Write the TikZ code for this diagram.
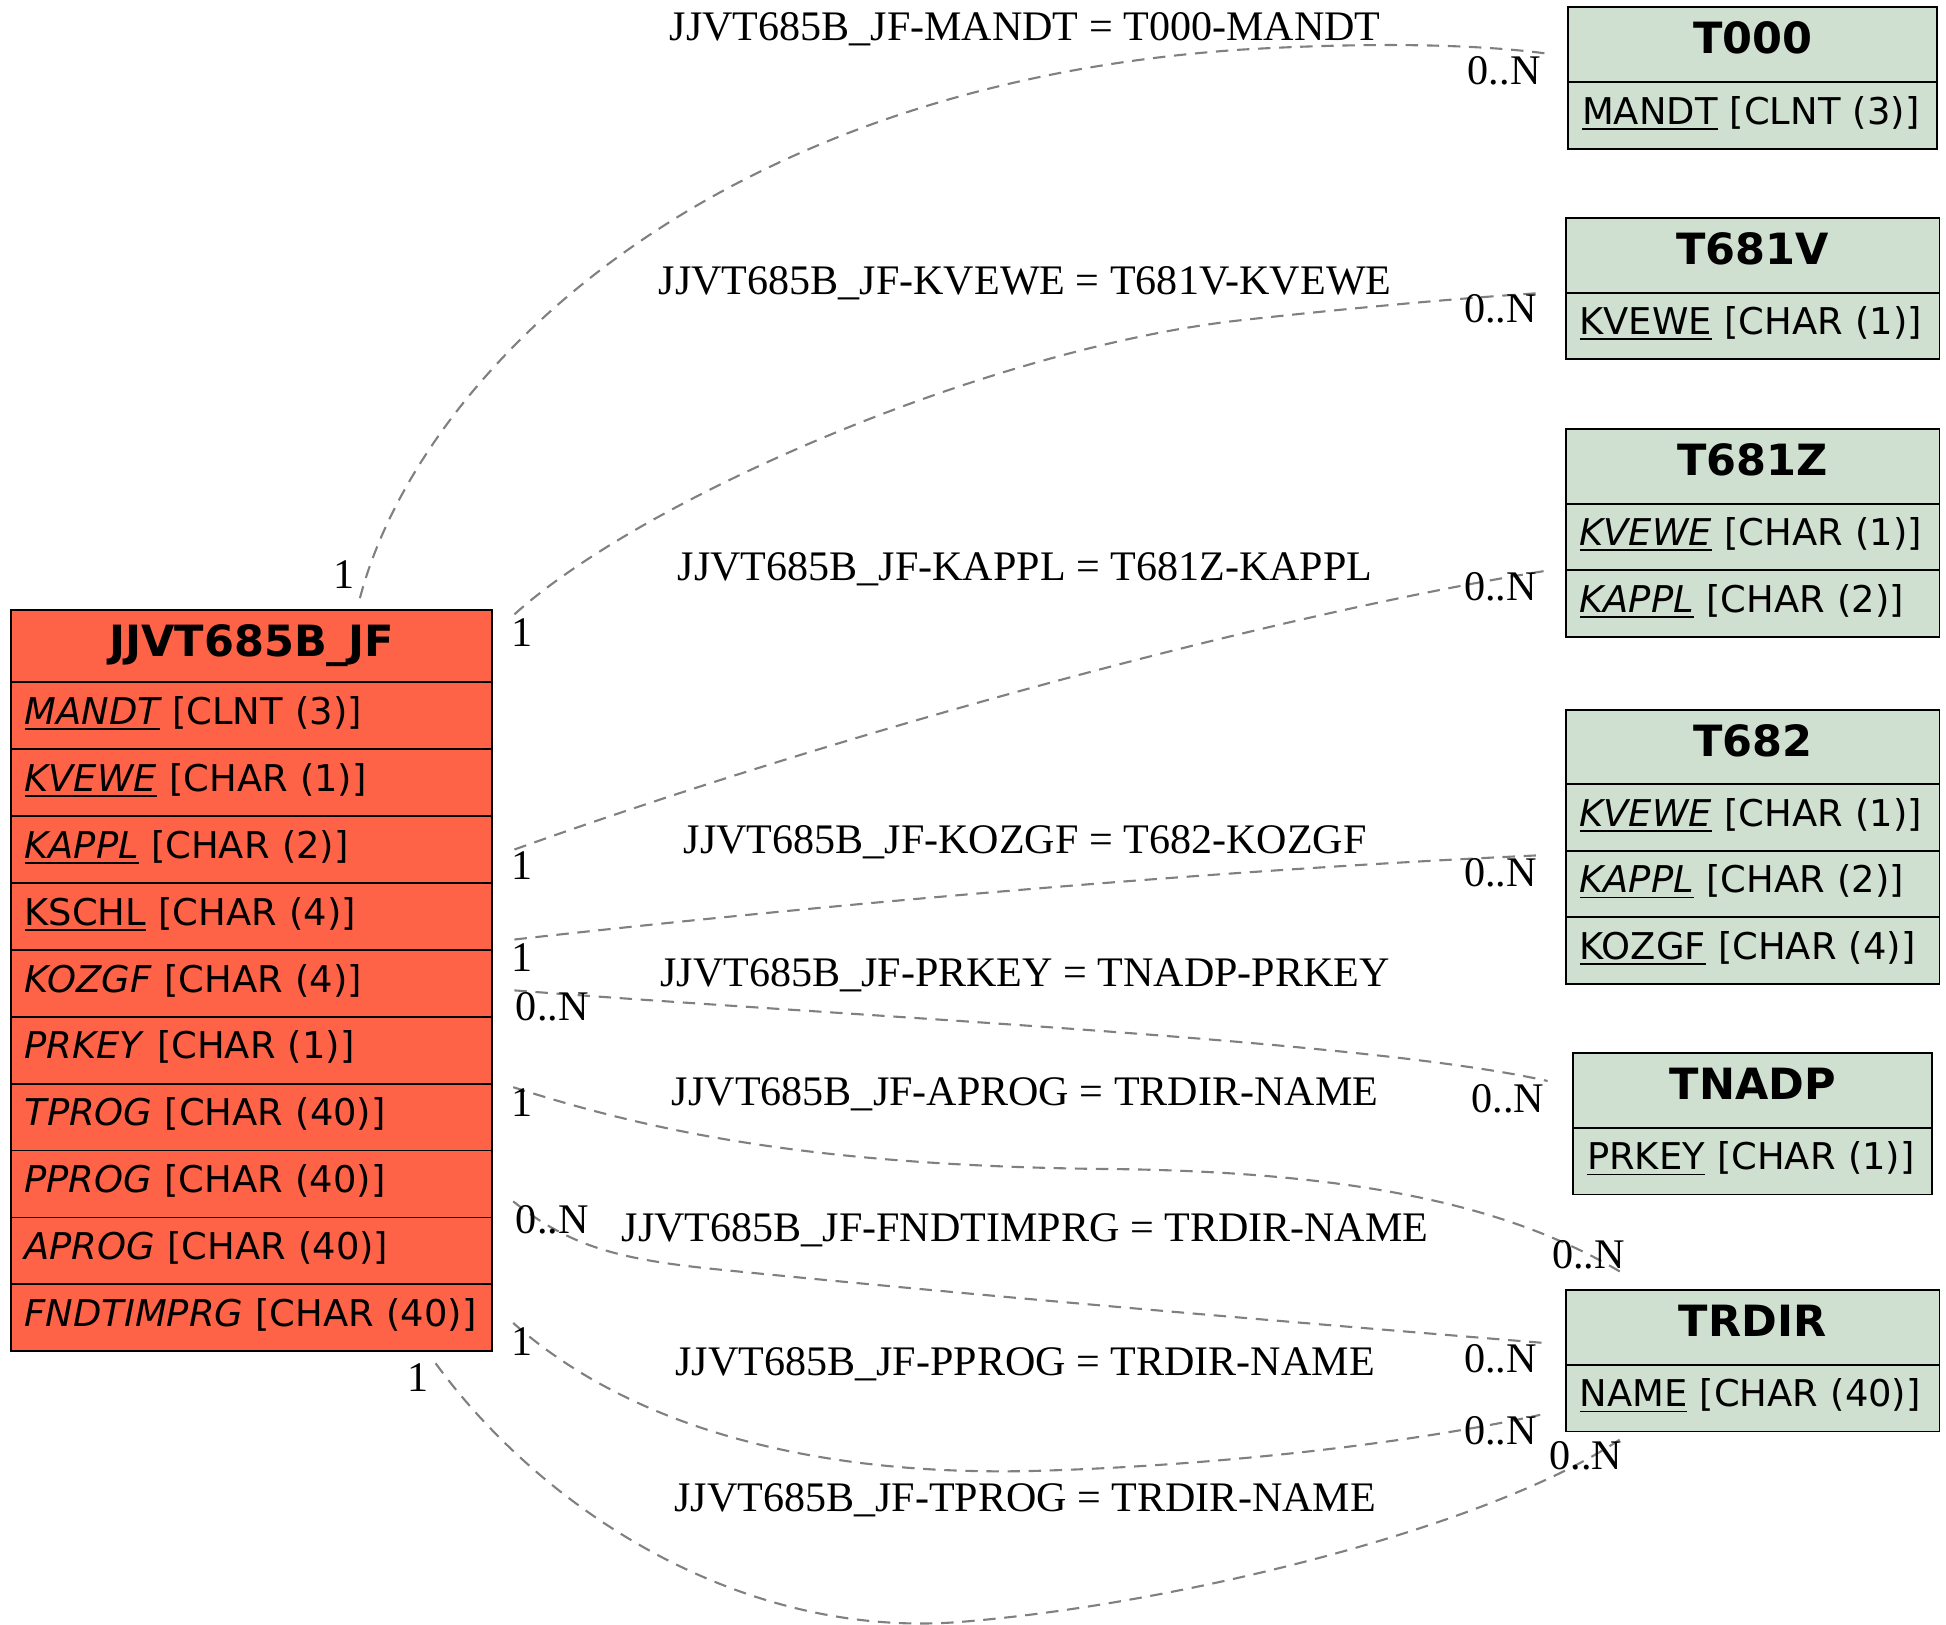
\documentclass[tikz,border=0pt]{standalone}
\usepackage{fontspec}
\setmainfont{Liberation Serif}
\newfontfamily\dvs{DejaVu Sans}
\definecolor{mainfill}{RGB}{255,99,71}
\definecolor{reffill}{RGB}{208,224,208}
\definecolor{edgegray}{RGB}{128,128,128}
\newcommand\ukey[1]{\setbox0\hbox{#1}\rlap{\rule[-4.5pt]{\wd0}{1.4pt}}\box0\relax}
\tikzset{
  rowbase/.style={draw=black, line width=1.5pt, anchor=north west, inner ysep=0pt, inner xsep=11pt,
    text height=14pt, text depth=0pt, font=\dvs\fontsize{29.7}{36}\selectfont, align=left},
  mainhdr/.style={rowbase, fill=mainfill, minimum height=58pt, text width=366pt, align=center,
    text height=17pt, font=\dvs\bfseries\fontsize{34.7}{42}\selectfont},
  mainrow/.style={rowbase, fill=mainfill, minimum height=53.9pt, text width=366pt},
  refhdr/.style={rowbase, fill=reffill, minimum height=60pt, align=center,
    text height=15pt, font=\dvs\bfseries\fontsize{34.7}{42}\selectfont},
  refrow/.style={rowbase, fill=reffill, minimum height=53.7pt},
  rel/.style={draw=edgegray, line width=1.7pt, dash pattern=on 10pt off 7pt},
  elabel/.style={anchor=base, inner sep=0pt, font=\fontsize{33.9}{40}\selectfont},
  card/.style={anchor=base, inner sep=0pt, font=\fontsize{34}{40}\selectfont},
}
\begin{document}
\begin{tikzpicture}[x=1pt, y=-1pt]
\useasboundingbox (0,0) rectangle (1568,1309);

% main table
\node[mainhdr] (jj) at (8,491) {JJVT685B\_JF};
\node[mainrow] (jj1) at (8,549.0) {\ukey{\itshape MANDT} [CLNT (3)]};
\node[mainrow] (jj2) at (8,602.9) {\ukey{\itshape KVEWE} [CHAR (1)]};
\node[mainrow] (jj3) at (8,656.8) {\ukey{\itshape KAPPL} [CHAR (2)]};
\node[mainrow] (jj4) at (8,710.7) {\ukey{KSCHL} [CHAR (4)]};
\node[mainrow] (jj5) at (8,764.6) {\textit{KOZGF} [CHAR (4)]};
\node[mainrow] (jj6) at (8,818.5) {\textit{PRKEY} [CHAR (1)]};
\node[mainrow] (jj7) at (8,872.4) {\textit{TPROG} [CHAR (40)]};
\node[mainrow] (jj8) at (8,926.3) {\textit{PPROG} [CHAR (40)]};
\node[mainrow] (jj9) at (8,980.2) {\textit{APROG} [CHAR (40)]};
\node[mainrow] (jj10) at (8,1034.1) {\textit{FNDTIMPRG} [CHAR (40)]};

% T000
\node[refhdr, text width=275pt] (t000) at (1263,5) {T000};
\node[refrow, text width=275pt] (t000a) at (1263,65.5) {\ukey{MANDT} [CLNT (3)]};
% T681V
\node[refhdr, text width=279pt] (t681v) at (1261,175) {T681V};
\node[refrow, text width=279pt] (t681va) at (1261,235) {\ukey{KVEWE} [CHAR (1)]};
% T681Z
\node[refhdr, text width=279pt] (t681z) at (1261,345) {T681Z};
\node[refrow, text width=279pt] (t681za) at (1261,405) {\ukey{\itshape KVEWE} [CHAR (1)]};
\node[refrow, text width=279pt] (t681zb) at (1261,458.7) {\ukey{\itshape KAPPL} [CHAR (2)]};
% T682
\node[refhdr, text width=279pt] (t682) at (1261,571) {T682};
\node[refrow, text width=279pt] (t682a) at (1261,631) {\ukey{\itshape KVEWE} [CHAR (1)]};
\node[refrow, text width=279pt] (t682b) at (1261,684.7) {\ukey{\itshape KAPPL} [CHAR (2)]};
\node[refrow, text width=279pt] (t682c) at (1261,738.4) {\ukey{KOZGF} [CHAR (4)]};
% TNADP
\node[refhdr, text width=267pt] (tnadp) at (1267,848) {TNADP};
\node[refrow, text width=267pt] (tnadpa) at (1267,908) {\ukey{PRKEY} [CHAR (1)]};
% TRDIR
\node[refhdr, text width=279pt] (trdir) at (1261,1039) {TRDIR};
\node[refrow, text width=279pt] (trdira) at (1261,1099) {\ukey{NAME} [CHAR (40)]};

% relations
\draw[rel] ([xshift=282pt,yshift=9pt]jj.north west) .. controls (335,310) and (560,70) .. (1000,40)
  .. controls (1120,33) and (1200,37) .. ([xshift=-18pt,yshift=-38pt]t000.north west);
\draw[rel] ([xshift=17pt,yshift=-4pt]jj.north east) .. controls (520,400) and (800,280) .. (1000,258)
  .. controls (1100,247) and (1180,240) .. ([xshift=-18pt,yshift=-61pt]t681v.north west);
\draw[rel] ([xshift=17pt]jj3.east) .. controls (650,600) and (1000,500) .. ([xshift=-16pt,yshift=-115pt]t681z.north west);
\draw[rel] ([xshift=17pt,yshift=-266pt]jj.north east) .. controls (700,725) and (1000,700) .. ([xshift=-17pt,yshift=-118pt]t682.north west);
\draw[rel] ([xshift=17pt,yshift=-307pt]jj.north east) .. controls (700,820) and (1100,838) .. ([xshift=-20pt,yshift=-23pt]tnadp.north west);
\draw[rel] ([xshift=16pt,yshift=-385pt]jj.north east) .. controls (520,910) and (650,940) .. (900,942)
  .. controls (1120,945) and (1230,980) .. ([xshift=45pt,yshift=14pt]trdir.north west);
\draw[rel] ([xshift=16pt,yshift=-477pt]jj.north east) .. controls (460,1005) and (500,1015) .. (580,1023)
  .. controls (800,1045) and (1000,1062) .. ([xshift=-18pt,yshift=-43pt]trdir.north west);
\draw[rel] ([xshift=16pt,yshift=-575pt]jj.north east) .. controls (520,1160) and (680,1190) .. (840,1185)
  .. controls (1000,1180) and (1150,1160) .. ([xshift=-20pt,yshift=-101pt]trdir.north west);
\draw[rel] ([xshift=343pt,yshift=-9pt]jj10.south west) .. controls (440,1220) and (600,1320) .. (772,1307)
  .. controls (950,1293) and (1200,1230) .. ([xshift=44pt,yshift=-121pt]trdir.north west);

% relation labels
\node[elabel] (l1) at (826,33) {JJVT685B\_JF-MANDT = T000-MANDT};
\node[elabel] (l2) at (826,237) {JJVT685B\_JF-KVEWE = T681V-KVEWE};
\node[elabel] (l3) at (826,468) {JJVT685B\_JF-KAPPL = T681Z-KAPPL};
\node[elabel] (l4) at (826,688) {JJVT685B\_JF-KOZGF = T682-KOZGF};
\node[elabel] (l5) at (826,795) {JJVT685B\_JF-PRKEY = TNADP-PRKEY};
\node[elabel] (l6) at (826,891) {JJVT685B\_JF-APROG = TRDIR-NAME};
\node[elabel] (l7) at (826,1000) {JJVT685B\_JF-FNDTIMPRG = TRDIR-NAME};
\node[elabel] (l8) at (826,1108) {JJVT685B\_JF-PPROG = TRDIR-NAME};
\node[elabel] (l9) at (826,1218) {JJVT685B\_JF-TPROG = TRDIR-NAME};

% cardinalities
\node[card] (c1a) at (277,474) {1};
\node[card] (c1b) at (1212,68) {0..N};
\node[card] (c2a) at (421,521) {1};
\node[card] (c2b) at (1209,260) {0..N};
\node[card] (c3a) at (421,709) {1};
\node[card] (c3b) at (1209,484) {0..N};
\node[card] (c4a) at (421,783) {1};
\node[card] (c4b) at (1209,714) {0..N};
\node[card] (c5a) at (445,822) {0..N};
\node[card] (c5b) at (1215,896) {0..N};
\node[card] (c6a) at (421,900) {1};
\node[card] (c6b) at (1280,1022) {0..N};
\node[card] (c7a) at (445,994) {0..N};
\node[card] (c7b) at (1209,1106) {0..N};
\node[card] (c8a) at (421,1092) {1};
\node[card] (c8b) at (1209,1164) {0..N};
\node[card] (c9a) at (337,1121) {1};
\node[card] (c9b) at (1278,1184) {0..N};
\end{tikzpicture}
\end{document}
